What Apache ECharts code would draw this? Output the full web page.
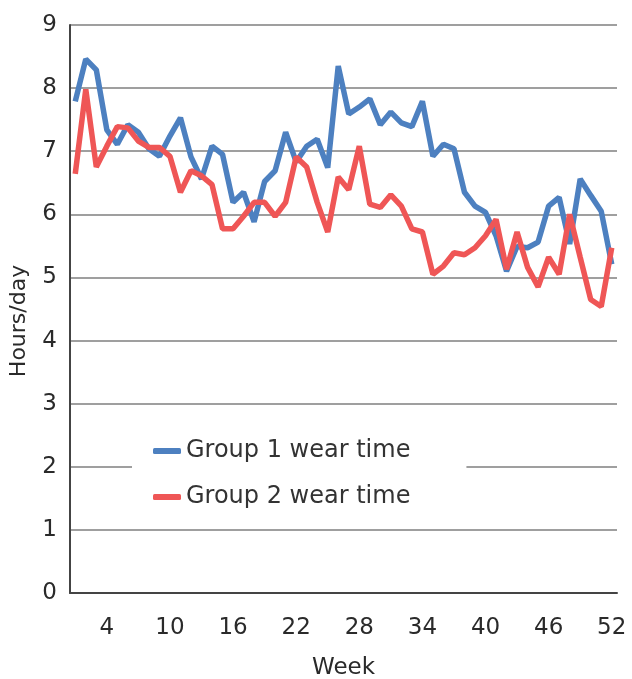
<!DOCTYPE html>
<html>
<head>
<meta charset="utf-8">
<script src="https://cdn.jsdelivr.net/npm/echarts@6/dist/echarts.min.js"></script>
<style>html,body{margin:0;padding:0;background:#fff;}#c{width:632px;height:679px;}</style>
</head>
<body>
<div id="c"></div>
<script>
var weeks = [];
for (var i = 1; i <= 52; i++) weeks.push(String(i));
var yTicks = [0,1,2,3,4,5,6,7,8,9];
var group1 = [7.79,8.46,8.29,7.34,7.11,7.42,7.3,7.04,6.92,7.24,7.53,6.91,6.56,7.08,6.95,6.19,6.35,5.88,6.52,6.69,
  7.3,6.83,7.08,7.19,6.74,8.35,7.59,7.7,7.83,7.42,7.62,7.45,7.39,7.79,6.92,7.11,7.04,6.35,6.13,6.03,
  5.66,5.1,5.49,5.47,5.56,6.13,6.27,5.53,6.56,6.3,6.05,5.21];
var group2 = [6.64,7.98,6.75,7.08,7.39,7.37,7.16,7.06,7.06,6.92,6.35,6.69,6.61,6.47,5.77,5.77,5.97,6.19,6.19,5.97,
  6.19,6.91,6.75,6.19,5.72,6.59,6.39,7.08,6.16,6.11,6.31,6.13,5.77,5.72,5.05,5.18,5.39,5.36,5.47,5.66,
  5.92,5.13,5.72,5.16,4.85,5.32,5.05,6.0,5.32,4.65,4.54,5.47];
var labelWeeks = ['4','10','16','22','28','34','40','46','52'];

var chart = echarts.init(document.getElementById('c'));
var txt = '#2a2a2a';
var ff = 'DejaVu Sans';
chart.setOption({
  animation: false,
  backgroundColor: '#fff',
  grid: { left: 70, right: 15, top: 25, bottom: 86, containLabel: false, outerBoundsMode: 'none' },
  legend: {
    orient: 'vertical',
    left: 132, top: 431,
    backgroundColor: '#fff',
    padding: [8, 56, 8, 21],
    itemGap: 22,
    itemWidth: 28, itemHeight: 6,
    icon: 'roundRect',
    textStyle: { fontFamily: ff, fontSize: 24, color: '#333' },
    data: ['Group 1 wear time', 'Group 2 wear time']
  },
  xAxis: {
    type: 'category',
    data: weeks,
    boundaryGap: true,
    name: 'Week',
    nameLocation: 'middle',
    nameGap: 64,
    nameTextStyle: { fontFamily: ff, fontSize: 23, color: txt },
    axisLine: { lineStyle: { color: '#444', width: 2 } },
    axisTick: { show: false },
    axisLabel: {
      interval: function (idx, val) { return labelWeeks.indexOf(val) >= 0; },
      margin: 24,
      fontFamily: ff, fontSize: 23, color: txt
    },
    splitLine: { show: false }
  },
  yAxis: {
    type: 'value',
    min: yTicks[0], max: yTicks[yTicks.length - 1], interval: 1,
    name: 'Hours/day',
    nameLocation: 'middle',
    nameGap: 40,
    nameTextStyle: { fontFamily: ff, fontSize: 22, color: txt, padding: [0, 24, 0, 0] },
    axisLine: { show: true, lineStyle: { color: '#444', width: 2 } },
    axisTick: { show: false },
    axisLabel: { margin: 13, fontFamily: ff, fontSize: 23, color: txt },
    splitLine: { lineStyle: { color: '#7f7f7f', width: 1.5 } }
  },
  series: [
    { name: 'Group 1 wear time', type: 'line', data: group1, symbol: 'none',
      lineStyle: { color: '#4D80C0', width: 5.5 }, itemStyle: { color: '#4D80C0' }, z: 3 },
    { name: 'Group 2 wear time', type: 'line', data: group2, symbol: 'none',
      lineStyle: { color: '#EF5656', width: 5.5 }, itemStyle: { color: '#EF5656' }, z: 4 }
  ]
});
</script>
</body>
</html>
